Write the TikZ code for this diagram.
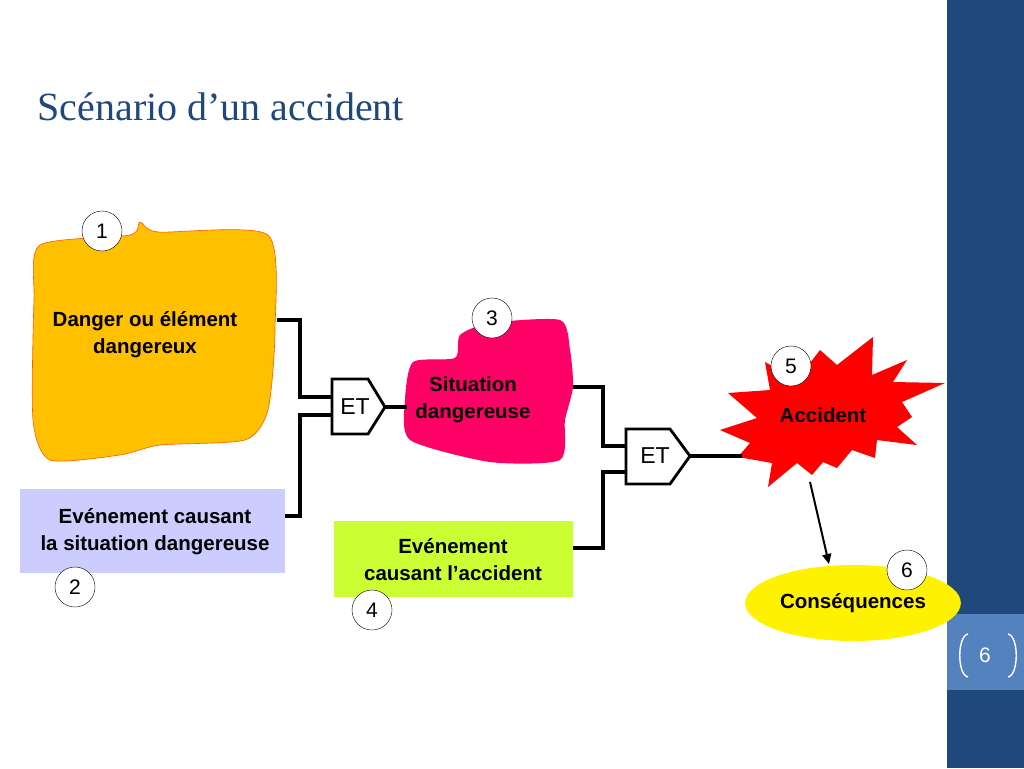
\documentclass[tikz,border=0pt]{standalone}
\usepackage{fontspec}
\setmainfont{Liberation Sans}
\newfontfamily\titlefont{Liberation Serif}
\usetikzlibrary{shapes.geometric,arrows.meta}
\definecolor{barblue}{RGB}{31,73,125}
\definecolor{boxblue}{RGB}{84,130,190}
\definecolor{dangeryel}{RGB}{255,192,0}
\definecolor{lilac}{RGB}{204,204,255}
\definecolor{sitpink}{RGB}{255,0,102}
\definecolor{lime}{RGB}{204,255,51}
\tikzset{
  num/.style={circle,draw,fill=white,minimum size=40pt,inner sep=0pt,font=\fontsize{21}{21}\selectfont},
  lbl/.style={align=center,font=\bfseries\fontsize{20.5}{27}\selectfont},
  link/.style={line width=3.2pt},
  etgate/.style={draw,line width=2.8pt,fill=white}
}
\begin{document}
\begin{tikzpicture}[x=1pt,y=-1pt]
        \useasboundingbox (0,0) rectangle (1024,768);
        \fill[white] (0,0) rectangle (1024,768);

        % side bar
        \fill[barblue] (947,0) rectangle (1024,768);
        \fill[boxblue] (947,614) rectangle (1024,690);
        \node[white,font=\fontsize{21}{21}\selectfont] (page) at (985,655) {6};
        \draw[white,line width=1.4pt] (968,634) .. controls (957,636) and (957,675) .. (968,677);
        \draw[white,line width=1.4pt] (1008,634) .. controls (1019,636) and (1019,675) .. (1008,677);

        % title
        \node[anchor=west,text=barblue,font=\titlefont\fontsize{40}{40}\selectfont] (title) at (34,107) {Scénario d’un accident};

        % blobs and boxes
        \draw[fill=dangeryel,draw=orange!70!red,line width=0.6pt] plot[smooth cycle,tension=0.4] coordinates
          {(40,245) (130,235) (140,222) (158,232) (268,235) (275,330) (268,410) (245,440) (160,445) (120,455) (50,460) (33,420) (34,300)};
        \node[lbl] (danger) at (145,335) {Danger ou élément\\dangereux};
        \node[num] (n1) at (102,231) {1};

        \fill[lilac] (20,489) rectangle (285,573);
        \node[lbl] (event1) at (155,532) {Evénement causant\\la situation dangereuse};
        \node[num] (n2) at (75,587) {2};

        \fill[sitpink] plot[smooth cycle,tension=0.4] coordinates
          {(460,335) (490,323) (560,320) (570,350) (573,387) (565,420) (560,460) (490,462) (410,440) (405,400) (413,362) (455,358)};
        \node[lbl] (situation) at (473,400) {Situation\\dangereuse};
        \node[num] (n3) at (492,318) {3};

        \fill[lime] (334,521) rectangle (573,597);
        \node[lbl] (event2) at (453,560) {Evénement\\causant l’accident};
        \node[num] (n4) at (372,610) {4};

        % accident and consequences
        \fill[red] (720,430) -- (757,418) -- (728,393) -- (770,390) -- (765,362) -- (797,380) -- (820,350)
          -- (837,365) -- (873,337) -- (872,375) -- (907,360) -- (893,382) -- (945,383) -- (902,402)
          -- (912,417) -- (897,427) -- (917,445) -- (877,440) -- (875,458) -- (852,450) -- (837,468)
          -- (823,462) -- (812,475) -- (797,463) -- (768,487) -- (772,463) -- (738,457) -- (750,443) -- cycle;
        \node[lbl] (accident) at (823,415) {Accident};
        \node[num] (n5) at (791,366) {5};

        \node[ellipse,fill=yellow,minimum width=184pt,minimum height=76pt,lbl] (conseq) at (853,603) {Conséquences};
        \node[num] (n6) at (907,570) {6};

        % gates
        \draw[etgate] (332,379) -- (368,379) -- (385,407) -- (368,434) -- (332,434) -- cycle;
        \node[font=\fontsize{23}{23}\selectfont] (et1) at (355,407) {ET};
        \draw[etgate] (626,429) -- (670,429) -- (690,456) -- (670,484) -- (626,484) -- cycle;
        \node[font=\fontsize{23}{23}\selectfont] (et2) at (655,456) {ET};
        \coordinate (g1out) at (385,407);
        \coordinate (g2out) at (690,456);

        % connectors
        \draw[link] (277,320) -- (300,320) -- (300,397) -- (332,397);
        \draw[link] (285,516) -- (300,516) -- (300,415) -- (332,415);
        \draw[link] (g1out) -- (407,407);
        \draw[link] (573,387) -- (603,387) -- (603,446) -- (626,446);
        \draw[link] (573,548) -- (603,548) -- (603,472) -- (626,472);
        \draw[link] (g2out) -- (742,456);
        \draw[line width=2pt,-{Triangle[length=10pt,width=9pt]}] (810,482) -- (829,564);

\end{tikzpicture}
\end{document}
